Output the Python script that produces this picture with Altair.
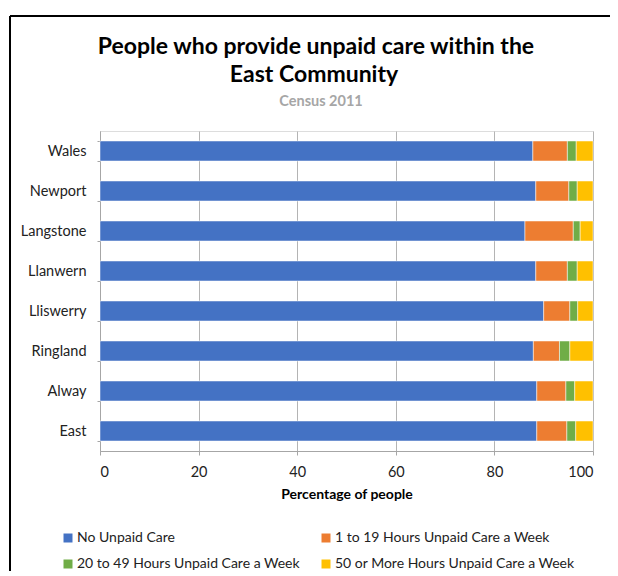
import altair as alt
import pandas as pd

areas = ["Wales", "Newport", "Langstone", "Llanwern", "Lliswerry", "Ringland", "Alway", "East"]
categories = [
    "No Unpaid Care",
    "1 to 19 Hours Unpaid Care a Week",
    "20 to 49 Hours Unpaid Care a Week",
    "50 or More Hours Unpaid Care a Week",
]
no_care = [87.8, 88.4, 86.2, 88.4, 90.0, 87.9, 88.6, 88.6]
h1_19 = [7.0, 6.7, 9.8, 6.4, 5.3, 5.3, 5.9, 6.1]
h20_49 = [1.8, 1.7, 1.4, 2.0, 1.6, 2.1, 1.8, 1.8]
h50 = [3.4, 3.2, 2.6, 3.2, 3.1, 4.7, 3.7, 3.5]
colors = ["#4472C4", "#ED7D31", "#70AD47", "#FFC000"]
title_lines = ["People who provide unpaid care within the", "East Community"]
subtitle = "Census 2011"

rows = []
for i, a in enumerate(areas):
    for k, (c, vals) in enumerate(zip(categories, [no_care, h1_19, h20_49, h50])):
        rows.append({"area": a, "category": c, "value": vals[i], "order": k})
df = pd.DataFrame(rows)

FONT = "Lato"

bars = alt.Chart(df).mark_bar(stroke="white", strokeWidth=0.5).encode(
    y=alt.Y(
        "area:N",
        sort=areas,
        title=None,
        scale=alt.Scale(paddingInner=0.5, paddingOuter=0.25),
        axis=alt.Axis(
            tickBand="extent",
            tickSize=3,
            tickColor="#a6a6a6",
            domainColor="#a6a6a6",
            labelFont=FONT,
            labelFontSize=14.5,
            labelColor="#222222",
            labelPadding=11,
            grid=False,
        ),
    ),
    x=alt.X(
        "value:Q",
        stack="zero",
        scale=alt.Scale(domain=[0, 100], nice=False),
        title="Percentage of people",
        axis=alt.Axis(
            values=[0, 20, 40, 60, 80, 100],
            tickSize=4,
            tickColor="#a6a6a6",
            domainColor="#a6a6a6",
            gridColor="#b4b4b4",
            labelFont=FONT,
            labelFontSize=14.5,
            labelColor="#222222",
            labelPadding=10,
            titleFont=FONT,
            titleFontSize=14,
            titleFontWeight="bold",
            titleColor="#000000",
            titlePadding=9,
        ),
    ),
    color=alt.Color(
        "category:N",
        sort=categories,
        scale=alt.Scale(domain=categories, range=colors),
        legend=alt.Legend(
            title=None,
            orient="none",
            legendX=-39,
            legendY=400,
            direction="horizontal",
            columns=2,
            columnPadding=19,
            rowPadding=12,
            symbolType="square",
            symbolSize=81,
            symbolStrokeWidth=0,
            labelFont=FONT,
            labelFontSize=14,
            labelColor="#222222",
            labelOffset=2,
            labelLimit=400,
        ),
    ),
    order=alt.Order("order:Q"),
)

one = alt.Data(values=[{"a": 1}])
frame = alt.Chart(one).mark_rule(color="#000000", strokeWidth=2).encode(
    x=alt.value(-90), x2=alt.value(540), y=alt.value(-115)
)
frame_left = alt.Chart(one).mark_rule(color="#000000", strokeWidth=2).encode(
    x=alt.value(-90), y=alt.value(-115), y2=alt.value(460)
)
t1 = alt.Chart(one).mark_text(
    text=title_lines[0], font=FONT, fontSize=23, fontWeight="bold", color="#000000", baseline="middle"
).encode(x=alt.value(216), y=alt.value(-84))
t2 = alt.Chart(one).mark_text(
    text=title_lines[1], font=FONT, fontSize=23, fontWeight="bold", color="#000000", baseline="middle"
).encode(x=alt.value(214), y=alt.value(-56))
t3 = alt.Chart(one).mark_text(
    text=subtitle, font=FONT, fontSize=14.5, fontWeight="bold", color="#a6a6a6", baseline="middle"
).encode(x=alt.value(221), y=alt.value(-29))

chart = alt.layer(bars, frame, frame_left, t1, t2, t3).properties(
    width=493,
    height=320,
    autosize=alt.AutoSizeParams(type="none"),
    padding={"left": 92, "top": 123, "right": 17, "bottom": 120},
).configure_view(fill="#e6e6e6", stroke=None).configure(background="white")

chart.save("out.html", embed_options={"renderer": "svg", "actions": False})
